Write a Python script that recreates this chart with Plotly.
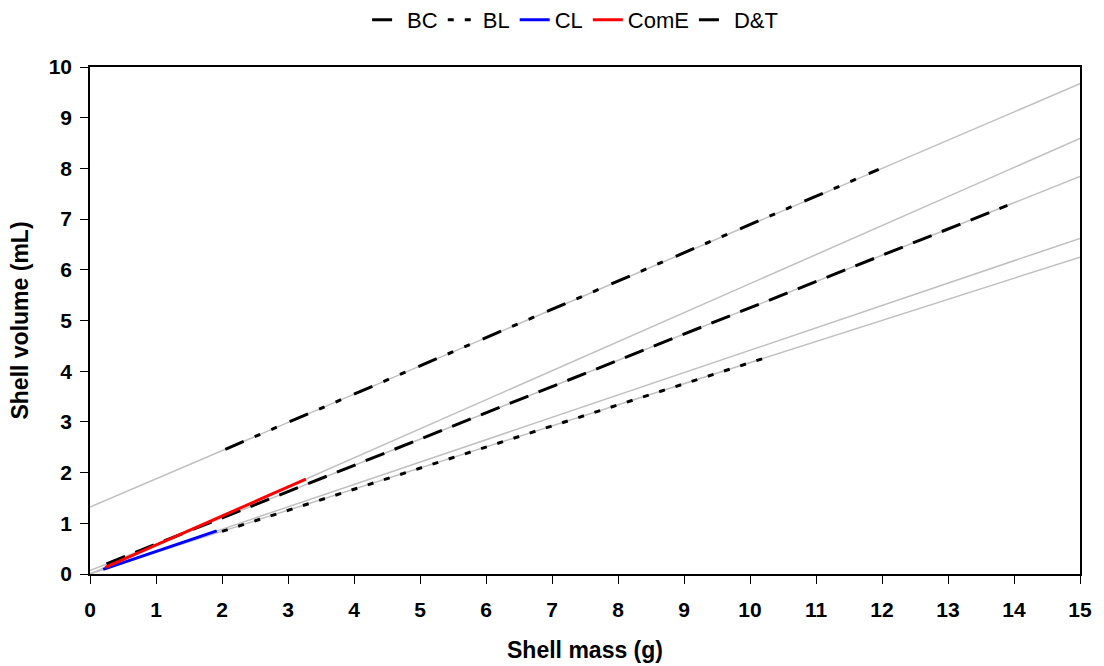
import plotly.graph_objects as go

# Series names
series = ["BC", "BL", "CL", "ComE", "D&T"]

seg_x = {
    "BC": [0.25, 13.9],
    "BL": [2.0, 10.2],
    "CL": [0.2, 1.92],
    "ComE": [0.23, 3.27],
    "D&T": [2.05, 11.95],
}
seg_y = {
    "BC": [0.2, 7.27],
    "BL": [0.84, 4.25],
    "CL": [0.09, 0.85],
    "ComE": [0.13, 1.87],
    "D&T": [2.46, 7.98],
}

# Extended grey fit lines: y at x = 0 and x = 15
fit_x = [0, 15]
fit_y = {
    "BC": [0.07, 7.84],
    "BL": [0.01, 6.25],
    "CL": [0.0, 6.62],
    "ComE": [0.0, 8.59],
    "D&T": [1.32, 9.67],
}

x_ticks = list(range(0, 16))
y_ticks = list(range(0, 11))

styles = {
    "BC": dict(color="black", dash="20px,11px", width=3),
    "BL": dict(color="black", dash="6px,11px", width=3),
    "CL": dict(color="#0000ff", dash="solid", width=3),
    "ComE": dict(color="#ff0000", dash="solid", width=3),
    "D&T": dict(color="black", dash="20px,12px,6px,12px,6px,14px", width=3),
}

fig = go.Figure()
for s in series:
    fig.add_trace(go.Scatter(x=fit_x, y=fit_y[s], mode="lines",
                             line=dict(color="#c0c0c0", width=1.5),
                             showlegend=False, hoverinfo="skip"))
for s in series:
    fig.add_trace(go.Scatter(x=seg_x[s], y=seg_y[s], mode="lines", name=s,
                             line=styles[s]))

FONT = "Liberation Sans, Arial"
axis_common = dict(showline=True, linecolor="black", linewidth=1.5, mirror=True,
                   ticks="outside", ticklen=8, tickcolor="black", tickwidth=1,
                   showgrid=False, zeroline=False, automargin=False,
                   tickfont=dict(family=FONT, size=21, color="black", weight="bold"))

fig.update_layout(
    width=1104, height=666,
    paper_bgcolor="white", plot_bgcolor="white",
    margin=dict(l=90, r=24, t=67, b=92, autoexpand=False),
    font=dict(family=FONT, color="black"),
    legend=dict(orientation="h", x=0.49, xanchor="center", y=1.093, yanchor="middle",
                font=dict(size=22, family=FONT), traceorder="normal"),
    xaxis=dict(range=[0, 15], tickvals=x_ticks, ticklabelstandoff=8,
               title=dict(text="Shell mass (g)", standoff=22,
                          font=dict(size=23, weight="bold")), **axis_common),
    yaxis=dict(range=[0, 10], tickvals=y_ticks, ticklabelstandoff=4,
               title=dict(text="Shell volume (mL)", standoff=14,
                          font=dict(size=23, weight="bold")), **axis_common),
)

fig.write_html("out.html")
